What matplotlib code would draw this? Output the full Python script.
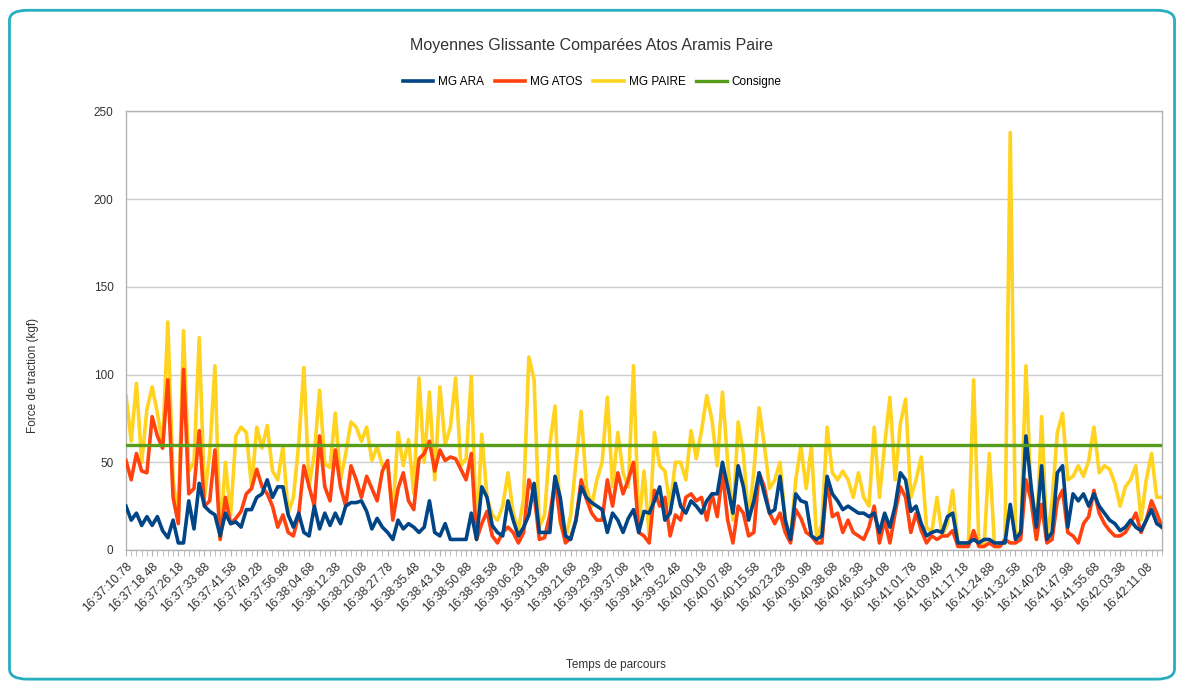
import numpy as np
import matplotlib.pyplot as plt
from matplotlib.patches import FancyBboxPatch

plt.rcParams['font.family'] = ['Liberation Sans', 'DejaVu Sans']

# ── Data (one sample every 1.54 s, a label every 5 samples) ──────────────────
time_labels = [
    "16:37:10.78", "16:37:18.48", "16:37:26.18", "16:37:33.88", "16:37:41.58",
    "16:37:49.28", "16:37:56.98", "16:38:04.68", "16:38:12.38", "16:38:20.08",
    "16:38:27.78", "16:38:35.48", "16:38:43.18", "16:38:50.88", "16:38:58.58",
    "16:39:06.28", "16:39:13.98", "16:39:21.68", "16:39:29.38", "16:39:37.08",
    "16:39:44.78", "16:39:52.48", "16:40:00.18", "16:40:07.88", "16:40:15.58",
    "16:40:23.28", "16:40:30.98", "16:40:38.68", "16:40:46.38", "16:40:54.08",
    "16:41:01.78", "16:41:09.48", "16:41:17.18", "16:41:24.88", "16:41:32.58",
    "16:41:40.28", "16:41:47.98", "16:41:55.68", "16:42:03.38", "16:42:11.08",
]

mg_paire = [
    88, 62, 95, 50, 80, 93, 78, 60, 130, 40,
    17, 125, 45, 50, 121, 30, 55, 105, 6, 50,
    20, 65, 70, 67, 36, 70, 58, 71, 45, 40,
    59, 21, 30, 60, 104, 36, 55, 91, 49, 47,
    78, 40, 55, 73, 70, 62, 70, 51, 59,
    48, 48, 21, 67, 48, 63, 32, 98, 50, 90, 40,
    93, 60, 70, 98, 48, 52, 99, 6, 66, 30,
    20, 17, 25, 44, 21, 11, 30, 110, 97, 13,
    20, 60, 82, 15, 6, 20, 50, 79, 36, 25,
    40, 50, 87, 36, 67, 44, 36, 105, 13, 45, 8,
    67, 48, 45, 25, 50, 50, 40, 68, 52, 68,
    88, 74, 48, 90, 50, 17, 73, 55, 17, 45,
    81, 60, 35, 40, 50, 17, 6, 40, 59, 35,
    59, 6, 15, 70, 44, 40, 45, 40, 30, 44,
    30, 25, 70, 30, 60, 87, 40, 72,
    86, 30, 40, 53,
    13, 10, 30, 8, 15, 34, 4, 2, 4, 97,
    4, 2, 55, 2, 2, 6, 238, 10, 10, 105,
    28, 6, 76, 6, 28, 67, 78, 40, 42, 48,
    42, 51, 70, 44, 48, 46, 38, 25, 36, 40,
    48, 17, 40, 55, 30, 30,
]

mg_atos = [
    51, 40, 55, 45, 44, 76, 65, 58, 97, 30,
    15, 103, 32, 35, 68, 25, 28, 57, 6, 30,
    15, 18, 22, 32, 35, 46, 36, 32, 25, 13,
    20, 10, 8, 20, 48, 36, 25, 65, 36, 28,
    57, 36, 25, 48, 40, 30, 42, 35, 28,
    45, 51, 17, 35, 44, 28, 23, 52, 55, 62, 45,
    57, 51, 53, 52, 46, 40, 55, 6, 15, 22,
    8, 4, 10, 13, 10, 4, 10, 40, 32, 6,
    7, 20, 40, 17, 4, 7, 17, 40, 29, 21,
    17, 17, 40, 25, 44, 32, 40, 50, 10, 8, 4,
    34, 25, 30, 8, 20, 17, 30, 32, 28, 30,
    17, 32, 19, 44, 17, 4, 25, 21, 8, 10,
    44, 36, 21, 15, 21, 10, 4, 23, 18, 10,
    8, 4, 4, 40, 19, 21, 10, 17, 10, 8,
    6, 13, 25, 4, 17, 4, 21, 36,
    30, 10, 21, 11,
    4, 8, 6, 8, 8, 11, 2, 2, 2, 11,
    2, 2, 4, 2, 2, 6, 4, 4, 6, 40,
    28, 6, 26, 4, 6, 28, 34, 10, 8, 4,
    15, 19, 34, 21, 15, 11, 8, 8, 10, 15,
    21, 10, 17, 28, 21, 13,
]

mg_ara = [
    25, 17, 21, 14, 19, 14, 19, 11, 7, 17,
    4, 4, 28, 12, 38, 25, 22, 20, 8, 21,
    15, 16, 13, 23, 23, 30, 32, 40, 30, 36,
    36, 20, 13, 21, 10, 8, 25, 12, 21, 14,
    21, 15, 25, 27, 27, 28, 22, 12, 18,
    13, 10, 6, 17, 12, 15, 13, 10, 13, 28, 10,
    8, 15, 6, 6, 6, 6, 21, 6, 36, 30,
    14, 10, 8, 28, 17, 8, 13, 20, 38, 10,
    10, 10, 42, 30, 8, 6, 17, 36, 30, 27,
    25, 23, 10, 21, 17, 10, 18, 23, 10, 22, 21,
    28, 36, 17, 21, 38, 25, 21, 28, 25, 21,
    28, 32, 32, 50, 36, 21, 48, 36, 17, 28,
    44, 32, 21, 23, 42, 17, 6, 32, 28, 27,
    8, 6, 8, 42, 32, 28, 23, 25, 23, 21,
    21, 19, 21, 10, 21, 13, 25, 44,
    40, 22, 25, 15,
    8, 10, 11, 10, 19, 21, 4, 4, 4, 6,
    4, 6, 6, 4, 4, 4, 26, 6, 10, 65,
    36, 13, 48, 6, 10, 44, 48, 13, 32, 28,
    32, 25, 32, 25, 21, 17, 15, 11, 13, 17,
    13, 11, 17, 23, 15, 13,
]

consigne = 60
label_step = 5

# ── Plot ──────────────────────────────────────────────────────────────────────
fig = plt.figure(figsize=(11.84, 6.86), dpi=100)

# rounded teal frame around the whole picture
frame = FancyBboxPatch((0.008, 0.01), 0.984, 0.975, transform=fig.transFigure,
                       boxstyle="round,pad=0,rounding_size=0.015",
                       facecolor='white', edgecolor='#27aebf', lw=2, zorder=-10)
fig.patches.append(frame)

ax = fig.add_axes([0.1064, 0.1983, 0.875, 0.6392])
ax.set_facecolor('none')

x = np.arange(len(mg_ara))
xp = np.arange(len(mg_paire))
xa = np.arange(len(mg_atos))

ax.plot(xp, mg_paire, color='#ffd320', lw=2.6, zorder=2, label='MG PAIRE')
ax.plot(xa, mg_atos, color='#ff420e', lw=2.6, zorder=3, label='MG ATOS')
ax.plot(x, mg_ara, color='#004586', lw=2.6, zorder=4, label='MG ARA')
ax.plot([x[0], x[-1]], [consigne, consigne], color='#579d1c', lw=2.4, zorder=5,
        label='Consigne')

ax.set_xlim(0, len(mg_ara) - 1)
ax.set_ylim(0, 250)
ax.set_yticks(range(0, 251, 50))
ax.yaxis.grid(True, color='#cccccc', lw=1)
ax.set_axisbelow(True)

ax.set_xticks(np.arange(len(time_labels)) * label_step)
ax.set_xticklabels(time_labels, rotation=45, ha='right', va='top',
                   rotation_mode='anchor', fontsize=8.8, color='#333333')
ax.set_xticks(x, minor=True)
ax.tick_params(axis='x', which='both', length=4, color='#b3b3b3')
ax.tick_params(axis='y', length=0, labelsize=8.5, labelcolor='#333333', pad=9)

for s in ax.spines.values():
    s.set_color('#b3b3b3')
    s.set_linewidth(1)

fig.text(0.5, 0.933, "Moyennes Glissante Comparées Atos Aramis Paire",
         ha='center', va='center', fontsize=11.5, color='#333333')
fig.text(0.028, 0.452, "Force de traction (kgf)", rotation=90,
         ha='center', va='center', fontsize=8.5, color='#333333')
fig.text(0.52, 0.031, "Temps de parcours", ha='center', va='center',
         fontsize=8.5, color='#333333')

h, l = ax.get_legend_handles_labels()
order = ['MG ARA', 'MG ATOS', 'MG PAIRE', 'Consigne']
hs = [h[l.index(n)] for n in order]
fig.legend(hs, order, loc='center', bbox_to_anchor=(0.5, 0.88), ncol=4,
           frameon=False, fontsize=8.5, handlelength=2.6, columnspacing=0.9,
           handletextpad=0.4)

plt.savefig("out.png", dpi=100)
